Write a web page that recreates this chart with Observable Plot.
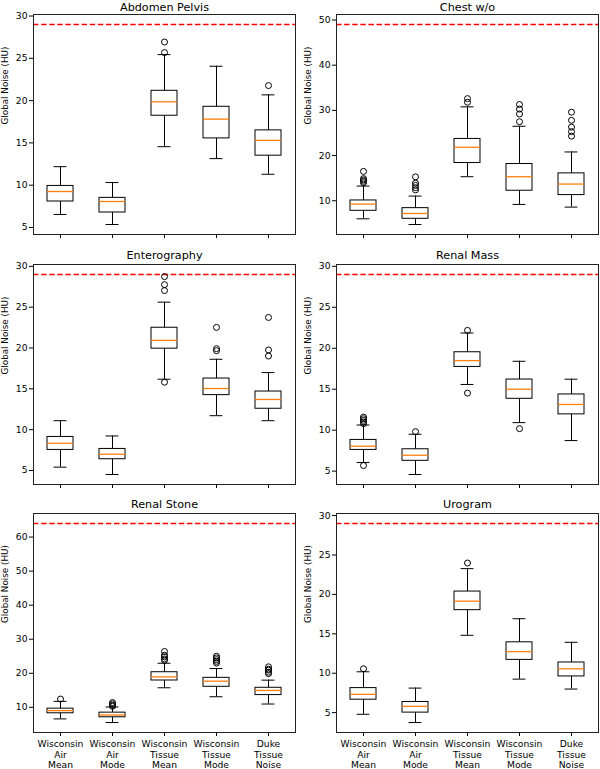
<!DOCTYPE html>
<html><head><meta charset="utf-8">
<script src="https://cdn.jsdelivr.net/npm/d3@7"></script>
<script src="https://cdn.jsdelivr.net/npm/@observablehq/plot@0.6"></script>
<style>
body{margin:0;background:#fff}
#wrap{position:relative;width:600px;height:769px;font-family:"DejaVu Sans",sans-serif}
.panel{position:absolute}
</style>
</head><body><div id="wrap"></div>
<script>
// ---- data ----
const categories = ["Wisconsin\nAir\nMean", "Wisconsin\nAir\nMode", "Wisconsin\nTissue\nMean", "Wisconsin\nTissue\nMode", "Duke\nTissue\nNoise"];
const panelTitles = ["Abdomen Pelvis", "Chest w/o", "Enterography", "Renal Mass", "Renal Stone", "Urogram"];
const yLabel = "Global Noise (HU)";
const thresholds = [29, 49, 29, 29, 64, 29];
const yTicks = [
  [5, 10, 15, 20, 25, 30],
  [10, 20, 30, 40, 50],
  [5, 10, 15, 20, 25, 30],
  [5, 10, 15, 20, 25, 30],
  [10, 20, 30, 40, 50, 60],
  [5, 10, 15, 20, 25, 30]
];
const whiskerLow = [
  [6.53, 5.35, 14.55, 13.14, 11.29],
  [6.01, 4.75, 15.32, 9.19, 8.6],
  [5.41, 4.51, 16.18, 11.71, 11.1],
  [6.05, 4.59, 15.58, 10.92, 8.73],
  [6.6, 5.53, 15.74, 13.11, 10.97],
  [4.79, 3.74, 14.81, 9.25, 7.99]
];
const quartile1 = [
  [8.07, 6.77, 18.21, 15.53, 13.49],
  [7.78, 6.01, 18.35, 12.22, 11.26],
  [7.52, 6.38, 19.92, 14.23, 12.56],
  [7.59, 6.26, 17.72, 13.83, 11.93],
  [8.25, 7.08, 17.88, 16.03, 13.6],
  [6.64, 5.0, 18.0, 11.69, 9.59]
];
const medians = [
  [9.25, 8.07, 19.86, 17.81, 15.3],
  [9.26, 7.19, 21.83, 15.32, 13.7],
  [8.33, 6.99, 20.93, 15.04, 13.7],
  [8.04, 6.94, 18.49, 15.0, 13.14],
  [9.03, 7.76, 18.95, 17.68, 14.96],
  [7.32, 5.8, 19.14, 12.74, 10.56]
];
const quartile3 = [
  [9.91, 8.5, 21.16, 19.27, 16.48],
  [10.07, 8.37, 23.68, 18.13, 16.06],
  [9.11, 7.64, 22.48, 16.26, 14.67],
  [8.81, 7.67, 19.51, 16.18, 14.36],
  [9.61, 8.44, 20.31, 18.66, 15.74],
  [8.11, 6.35, 20.36, 13.92, 11.36]
];
const whiskerHigh = [
  [12.19, 10.31, 25.44, 24.06, 20.68],
  [13.25, 11.04, 30.78, 26.49, 20.8],
  [11.1, 9.23, 25.61, 18.62, 16.99],
  [10.63, 9.5, 21.86, 18.41, 16.22],
  [11.75, 10.1, 22.94, 21.38, 17.98],
  [10.18, 8.11, 23.27, 16.91, 13.92]
];
const outliers = [
  [[], [], [26.93, 25.68], [], [21.78]],
  [[16.5, 14.9, 14.6, 14.3, 14.0], [15.3, 13.9, 13.4, 12.9, 12.4], [32.6, 31.8], [31.3, 30.3, 29.2, 27.5], [29.6, 27.8, 26.3, 25.3, 24.3]],
  [[], [], [28.74, 27.76, 27.03, 15.81], [22.52, 19.92, 19.67], [23.74, 19.76, 19.02]],
  [[11.6, 11.4, 11.2, 11.0, 10.8, 5.69], [9.82], [22.18, 14.52], [10.19], []],
  [[12.43], [11.4, 11.0, 10.6, 10.3], [26.4, 25.3, 24.8, 24.2, 23.8], [25.0, 24.5, 24.0, 23.5, 23.0], [21.9, 21.2, 20.9, 20.3, 19.9]],
  [[10.56], [], [23.98], [], []]
];

// ---- layout ----
const layout = [
  {left: 0,   top: 0,   width: 300, height: 250, ml: 33, mr: 5, mt: 14, mb: 16, bottom: false, tdy: -3.5},
  {left: 300, top: 0,   width: 300, height: 250, ml: 36, mr: 2, mt: 14, mb: 16, bottom: false, tdy: -3.5},
  {left: 0,   top: 250, width: 300, height: 250, ml: 33, mr: 5, mt: 14, mb: 16, bottom: false, tdy: -6},
  {left: 300, top: 250, width: 300, height: 250, ml: 36, mr: 2, mt: 14, mb: 16, bottom: false, tdy: -6},
  {left: 0,   top: 500, width: 300, height: 269, ml: 33, mr: 5, mt: 13, mb: 37, bottom: true, tdy: -6},
  {left: 300, top: 500, width: 300, height: 269, ml: 36, mr: 2, mt: 13, mb: 37, bottom: true, tdy: -6}
];

const wrap = document.getElementById("wrap");

panelTitles.forEach((title, i) => {
  const L = layout[i];
  const stats = categories.map((c, j) => ({
    cat: c, lo: whiskerLow[i][j], q1: quartile1[i][j], med: medians[i][j], q3: quartile3[i][j], hi: whiskerHigh[i][j]
  }));
  const outs = outliers[i].flatMap((arr, j) => arr.map(v => ({cat: categories[j], v})));
  const vals = [...whiskerLow[i], ...whiskerHigh[i], ...outs.map(d => d.v), thresholds[i]];
  const mn = d3.min(vals), mx = d3.max(vals), pad = (mx - mn) * 0.05;
  const plotW = L.width - L.ml - L.mr;
  const bw = plotW / categories.length * 0.5;
  const capInset = bw / 4;

  const chart = Plot.plot({
    width: L.width, height: L.height,
    marginLeft: L.ml, marginRight: L.mr, marginTop: L.mt, marginBottom: L.mb,
    style: {fontFamily: "DejaVu Sans", fontSize: "9.2px", color: "black", background: "white", overflow: "visible"},
    x: {type: "band", domain: categories, paddingInner: 0.5, paddingOuter: 0.25, align: 0.5},
    y: {domain: [mn - pad, mx + pad]},
    marks: [
      Plot.ruleY([thresholds[i]], {stroke: "red", strokeWidth: 1.6, strokeDasharray: "5.5,2.6"}),
      Plot.ruleX(stats, {x: "cat", y1: "lo", y2: "q1", stroke: "black", strokeWidth: 1}),
      Plot.ruleX(stats, {x: "cat", y1: "q3", y2: "hi", stroke: "black", strokeWidth: 1}),
      Plot.tickY(stats, {x: "cat", y: "lo", insetLeft: capInset, insetRight: capInset, stroke: "black", strokeWidth: 1}),
      Plot.tickY(stats, {x: "cat", y: "hi", insetLeft: capInset, insetRight: capInset, stroke: "black", strokeWidth: 1}),
      Plot.barY(stats, {x: "cat", y1: "q1", y2: "q3", fill: "white", stroke: "black", strokeWidth: 1}),
      Plot.tickY(stats, {x: "cat", y: "med", stroke: "#ff7f0e", strokeWidth: 1.3}),
      Plot.dot(outs, {x: "cat", y: "v", r: 3, stroke: "black", fill: "none", strokeWidth: 1}),
      Plot.frame({stroke: "#222", strokeWidth: 1}),
      Plot.axisY({ticks: yTicks[i], tickSize: 4, tickPadding: 2, label: null, fontSize: 9.2}),
      Plot.axisX({tickSize: 4, tickPadding: 3, label: null, lineHeight: 1.15, fontSize: 9.2,
                  tickFormat: L.bottom ? (d => d) : (() => "")}),
      Plot.text([title], {text: d => d, frameAnchor: "top", dy: L.tdy, lineAnchor: "bottom", fontSize: 11.2, fill: "black"}),
      Plot.text([yLabel], {text: d => d, frameAnchor: "left", rotate: -90, dx: -28.5, fontSize: 8.8, fill: "black"})
    ]
  });
  const div = document.createElement("div");
  div.className = "panel";
  div.style.left = L.left + "px";
  div.style.top = L.top + "px";
  div.appendChild(chart);
  wrap.appendChild(div);
});
</script>
</body></html>
